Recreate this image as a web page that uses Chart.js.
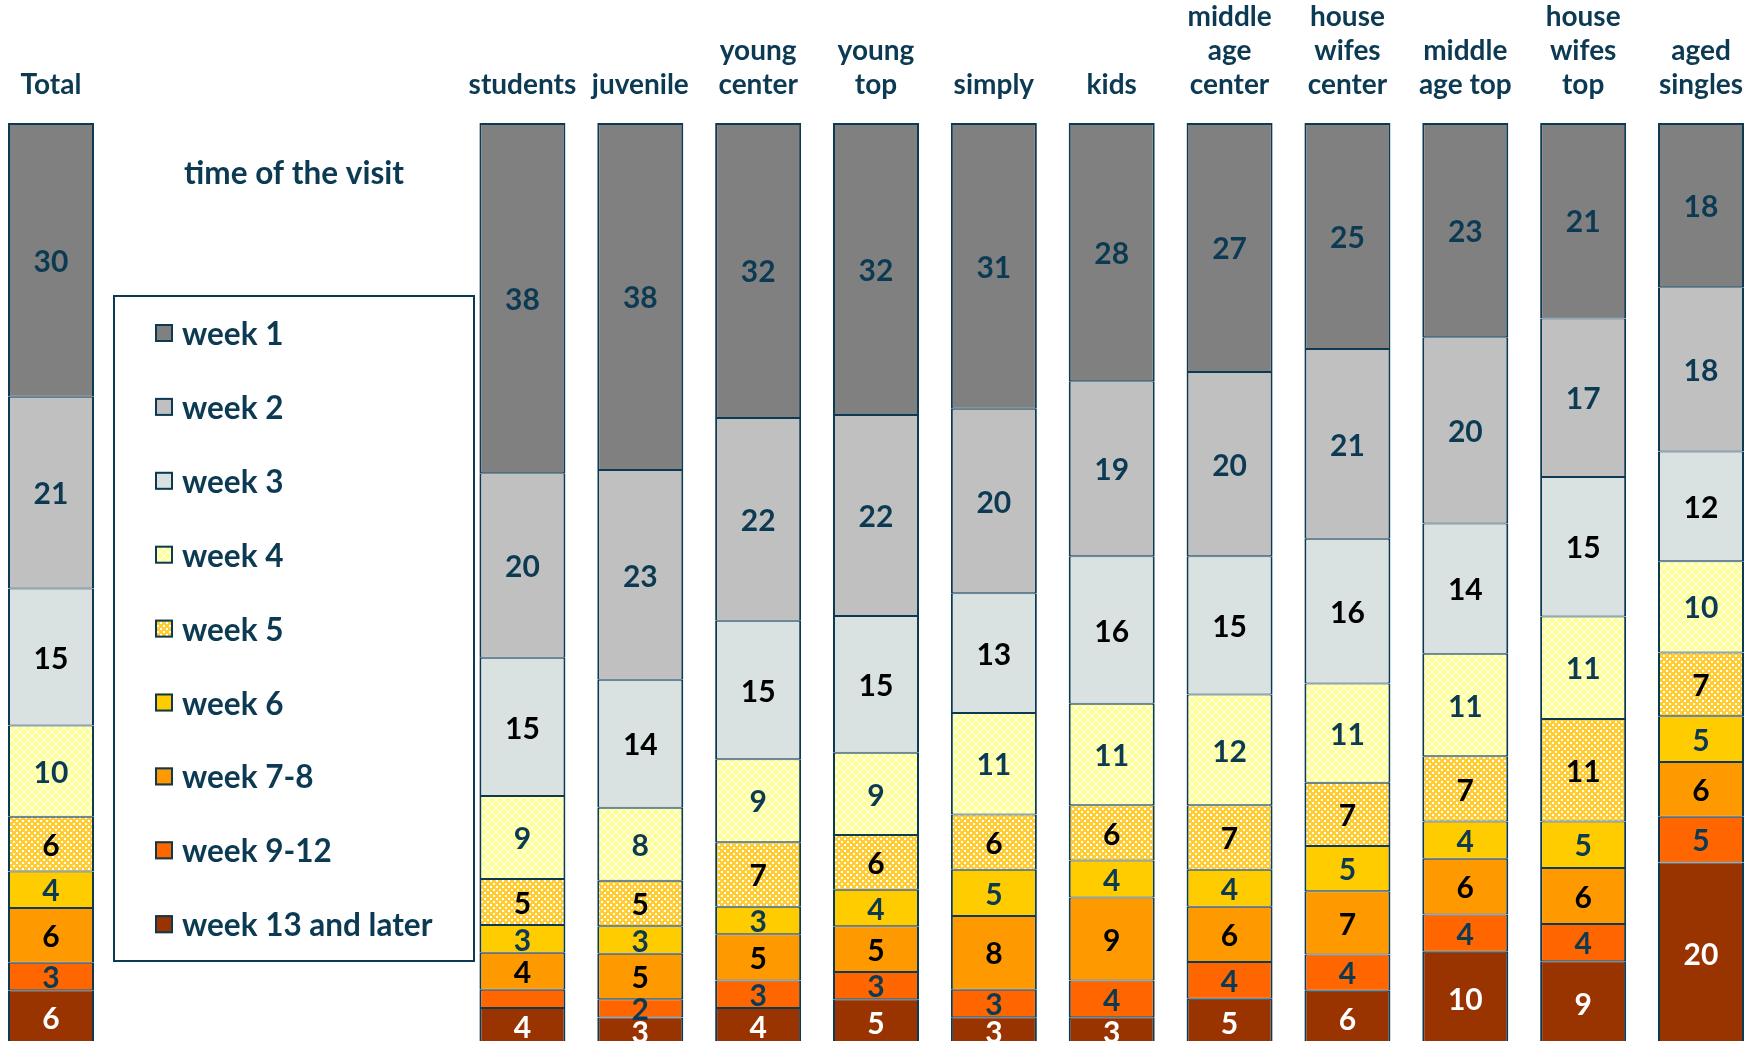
<!DOCTYPE html>
<html>
<head>
<meta charset="utf-8">
<title>time of the visit</title>
<script src="https://cdn.jsdelivr.net/npm/chart.js@4.4.1/dist/chart.umd.min.js"></script>
<style>
  html, body { margin: 0; padding: 0; background: #ffffff; }
  canvas { display: block; }
</style>
</head>
<body>
<canvas id="visitChart" width="1757" height="1041"></canvas>
<script>
// segments, top to bottom, in percent of each group
const categories = ['Total', 'students', 'juvenile', 'young center', 'young top', 'simply', 'kids',
  'middle age center', 'house wifes center', 'middle age top', 'house wifes top', 'aged singles'];
const categoryLines = [['Total'], ['students'], ['juvenile'], ['young', 'center'], ['young', 'top'],
  ['simply'], ['kids'], ['middle', 'age', 'center'], ['house', 'wifes', 'center'], ['middle', 'age top'],
  ['house', 'wifes', 'top'], ['aged', 'singles']];

const seriesNames = ['week 1', 'week 2', 'week 3', 'week 4', 'week 5', 'week 6', 'week 7-8', 'week 9-12', 'week 13 and later'];

const week1 = [30, 38, 38, 32, 32, 31, 28, 27, 25, 23, 21, 18];
const week2 = [21, 20, 23, 22, 22, 20, 19, 20, 21, 20, 17, 18];
const week3 = [15, 15, 14, 15, 15, 13, 16, 15, 16, 14, 15, 12];
const week4 = [10, 9, 8, 9, 9, 11, 11, 12, 11, 11, 11, 10];
const week5 = [6, 5, 5, 7, 6, 6, 6, 7, 7, 7, 11, 7];
const week6 = [4, 3, 3, 3, 4, 5, 4, 4, 5, 4, 5, 5];
const week7to8 = [6, 4, 5, 5, 5, 8, 9, 6, 7, 6, 6, 6];
const week9to12 = [3, 2, 2, 3, 3, 3, 4, 4, 4, 4, 4, 5];
const week13plus = [6, 4, 3, 4, 5, 3, 3, 5, 6, 10, 9, 20];

const seriesValues = [week1, week2, week3, week4, week5, week6, week7to8, week9to12, week13plus];

// the one segment that carries no number
const unlabeled = [['week 9-12', 'students']];

const NAVY = '#0c3a53';
const gapAfterTotal = 3;

function crossHatch(ctx) {
  const c = document.createElement('canvas');
  c.width = 8; c.height = 8;
  const g = c.getContext('2d');
  g.fillStyle = '#ffff99';
  g.fillRect(0, 0, 8, 8);
  g.strokeStyle = '#ffffff';
  g.lineWidth = 1;
  for (const k of [-8, 0, 8]) {
    g.beginPath(); g.moveTo(k, 0); g.lineTo(k + 8, 8); g.stroke();
    g.beginPath(); g.moveTo(k + 8, 0); g.lineTo(k, 8); g.stroke();
  }
  return ctx.createPattern(c, 'repeat');
}

function dotted(ctx) {
  const c = document.createElement('canvas');
  c.width = 6; c.height = 6;
  const g = c.getContext('2d');
  g.fillStyle = '#ffcc33';
  g.fillRect(0, 0, 6, 6);
  g.fillStyle = '#ffffff';
  g.fillRect(1, 1, 2, 2);
  g.fillRect(4, 4, 2, 2);
  return ctx.createPattern(c, 'repeat');
}

const canvas = document.getElementById('visitChart');
const ctx = canvas.getContext('2d');

const fills = ['#808080', '#c0c0c0', '#d9e1e1', crossHatch(ctx), dotted(ctx), '#ffcc00', '#ff9900', '#ff6600', '#993300'];
const labelColors = [NAVY, NAVY, '#000000', NAVY, '#000000', NAVY, '#000000', NAVY, '#ffffff'];

// slots: Total, three empty slots (legend sits there), then the groups
const slotLabels = [categories[0], ...Array(gapAfterTotal).fill(''), ...categories.slice(1)];
const toSlots = arr => [arr[0], ...Array(gapAfterTotal).fill(null), ...arr.slice(1)];
const slotOf = name => {
  const i = categories.indexOf(name);
  return i === 0 ? 0 : i + gapAfterTotal;
};

const groupTotals = categories.map((_, i) => seriesValues.reduce((s, arr) => s + arr[i], 0));

const datasets = seriesNames.map((name, si) => {
  const vals = seriesValues[si];
  return {
    label: name,
    data: toSlots(vals.map((v, i) => v / groupTotals[i] * 100)),
    values: toSlots(vals),
    skip: unlabeled.filter(u => u[0] === name).map(u => slotOf(u[1])),
    labelColor: labelColors[si],
    backgroundColor: fills[si],
    borderColor: NAVY,
    borderWidth: { top: si === 0 ? 2 : 1, bottom: 1, left: 2, right: 2 },
    borderSkipped: false,
    inflateAmount: 0,
    barThickness: 86,
    clip: false
  };
}).reverse();

const segmentLabels = {
  id: 'segmentLabels',
  afterDatasetsDraw(chart) {
    const c = chart.ctx;
    c.save();
    c.font = 'bold 30px Lato';
    c.textAlign = 'center';
    c.textBaseline = 'middle';
    chart.data.datasets.forEach((ds, di) => {
      chart.getDatasetMeta(di).data.forEach((bar, i) => {
        const v = ds.values[i];
        if (v == null || ds.skip.includes(i)) return;
        const { x, y, base } = bar.getProps(['x', 'y', 'base'], true);
        c.fillStyle = ds.labelColor;
        c.fillText(String(v), x, (y + base) / 2 + 2);
      });
    });
    c.restore();
  }
};

const groupLabels = {
  id: 'groupLabels',
  afterDraw(chart) {
    const c = chart.ctx;
    const xs = chart.scales.x;
    c.save();
    c.font = 'bold 28px Lato';
    c.fillStyle = NAVY;
    c.textAlign = 'center';
    c.textBaseline = 'alphabetic';
    categoryLines.forEach((lines, i) => {
      const x = xs.getPixelForValue(slotOf(categories[i]));
      lines.forEach((line, li) => {
        c.fillText(line, x, 94 - (lines.length - 1 - li) * 34);
      });
    });
    c.restore();
  }
};

const legendBox = {
  id: 'legendBox',
  afterDraw(chart) {
    const c = chart.ctx;
    c.save();
    c.font = 'bold 31.5px Lato';
    c.fillStyle = NAVY;
    c.textAlign = 'center';
    c.textBaseline = 'alphabetic';
    c.fillText('time of the visit', 294, 184);

    c.fillStyle = '#ffffff';
    c.fillRect(113, 295, 362, 667);
    c.strokeStyle = NAVY;
    c.lineWidth = 2;
    c.strokeRect(114, 296, 360, 665);

    c.textAlign = 'left';
    const items = chart.data.datasets.slice().reverse();
    items.forEach((ds, k) => {
      const cy = 333 + k * 73.9;
      c.fillStyle = ds.backgroundColor;
      c.fillRect(155, cy - 9, 18, 18);
      c.strokeStyle = NAVY;
      c.lineWidth = 2;
      c.strokeRect(156, cy - 8, 16, 16);
      c.fillStyle = NAVY;
      c.fillText(ds.label, 182, cy + 12);
    });
    c.restore();
  }
};

new Chart(ctx, {
  type: 'bar',
  data: { labels: slotLabels, datasets },
  options: {
    responsive: false,
    animation: false,
    layout: { padding: { left: 51, right: 56, top: 123, bottom: 0 } },
    plugins: {
      legend: { display: false },
      tooltip: { enabled: false }
    },
    scales: {
      x: { stacked: true, offset: false, display: false },
      y: { stacked: true, min: 0.43, max: 100, display: false }
    }
  },
  plugins: [segmentLabels, groupLabels, legendBox]
});
</script>
</body>
</html>
